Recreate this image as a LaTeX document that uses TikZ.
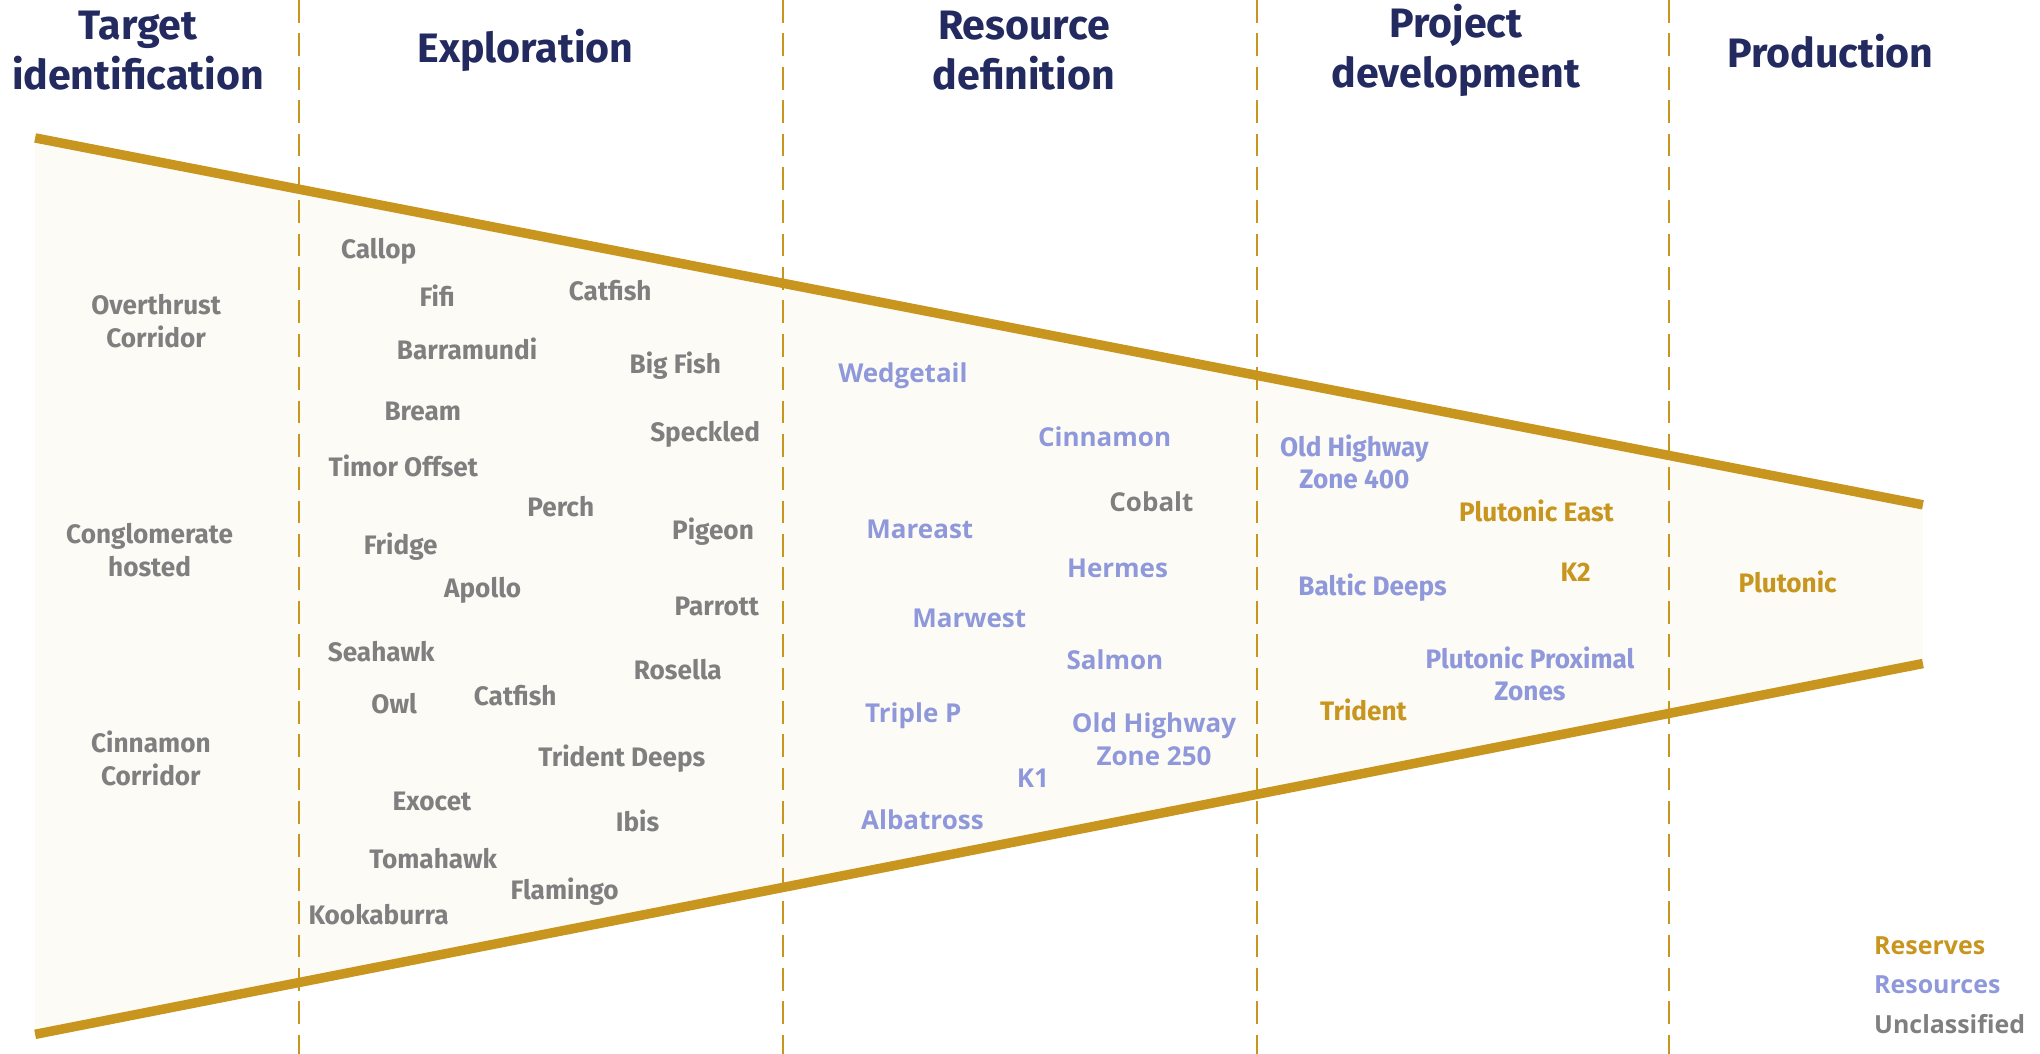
\documentclass[tikz,border=0pt]{standalone}
\usepackage{fontspec}
\setmainfont{Fira Sans}
\newfontfamily\narrowfont[FakeStretch=0.98]{Fira Sans}
\newfontfamily\widefont{Open Sans}
\usetikzlibrary{positioning}
\definecolor{gold}{RGB}{200,149,30}
\definecolor{navy}{RGB}{34,42,96}
\definecolor{resblue}{RGB}{142,152,218}
\definecolor{ungrey}{RGB}{127,127,127}
\definecolor{cream}{RGB}{252,251,245}

\begin{document}
\begin{tikzpicture}[x=0.01301cm, y=-0.01301cm,
  stage/.style={font=\bfseries\fontsize{11.7}{14.2}\selectfont, text=navy, align=center, inner sep=0pt},
  unclassified/.style={font=\narrowfont\bfseries\fontsize{7.6}{9.3}\selectfont, text=ungrey, align=center, inner sep=0pt},
  resource/.style={unclassified, text=resblue},
  reserve/.style={unclassified, text=gold},
  wide/.style={font=\widefont\bfseries\fontsize{7.4}{9.3}\selectfont},
  legend/.style={font=\widefont\bfseries\fontsize{7.1}{9}\selectfont, anchor=west},
  boundary/.style={gold, line width=2.7pt},
  divider/.style={gold, line width=0.6pt, dash pattern=on 6.5pt off 3pt}]
\useasboundingbox (0,0) rectangle (1568,810);
\coordinate (tl) at (27,106);
\coordinate (tr) at (1478,388);
\coordinate (br) at (1478,510);
\coordinate (bl) at (27,795);
\fill[cream] (tl) -- (tr) -- (br) -- (bl) -- cycle;
\foreach \x in {230,602,966,1283}
  \draw[divider] (\x,0) -- (\x,810);
\draw[boundary] (tl) -- (tr);
\draw[boundary] (bl) -- (br);

\node (target)[stage] at (106,39) {Target\\identification};
\node (explore)[stage] at (404,39) {Exploration};
\node (resdef)[stage] at (787,39) {Resource\\definition};
\node (project)[stage] at (1119,39) {Project\\development};
\node (prod)[stage] at (1407,39) {Production};

\node (overthrust)[unclassified] at (120,247) {Overthrust\\Corridor};
\node (conglom)[unclassified] at (115,423) {Conglomerate\\hosted};
\node (cinncorr)[unclassified] at (116,583) {Cinnamon\\Corridor};

\node (callop)[unclassified] at (291,193) {Callop};
\node (fifi)[unclassified] at (336,227) {Fifi};
\node (catfish1)[unclassified] at (469,223) {Catfish};
\node (barra)[unclassified] at (359,268) {Barramundi};
\node (bigfish)[unclassified] at (519,281) {Big Fish};
\node (bream)[unclassified] at (325,316) {Bream};
\node (speckled)[unclassified] at (542,334) {Speckled};
\node (timor)[unclassified] at (310,358) {Timor Offset};
\node (perch)[unclassified] at (431,389) {Perch};
\node (pigeon)[unclassified] at (548,409) {Pigeon};
\node (fridge)[unclassified] at (308,420) {Fridge};
\node (apollo)[unclassified] at (371,454) {Apollo};
\node (parrott)[unclassified] at (551,466) {Parrott};
\node (seahawk)[unclassified] at (293,501) {Seahawk};
\node (rosella)[unclassified] at (521,515) {Rosella};
\node (owl)[unclassified] at (303,541) {Owl};
\node (catfish2)[unclassified] at (396,535) {Catfish};
\node (tdeeps)[unclassified] at (478,583) {Trident Deeps};
\node (exocet)[unclassified] at (332,616) {Exocet};
\node (ibis)[unclassified] at (490,631) {Ibis};
\node (tomahawk)[unclassified] at (333,660) {Tomahawk};
\node (flamingo)[unclassified] at (434,685) {Flamingo};
\node (kooka)[unclassified] at (291,703) {Kookaburra};

\node (wedgetail)[resource, wide] at (694,289) {Wedgetail};
\node (cinnamon)[resource, wide] at (849,336) {Cinnamon};
\node (cobalt)[unclassified, wide] at (885,386) {Cobalt};
\node (mareast)[resource, wide] at (707,407) {Mareast};
\node (hermes)[resource, wide] at (859,437) {Hermes};
\node (marwest)[resource, wide] at (745,475) {Marwest};
\node (salmon)[resource, wide] at (857,507) {Salmon};
\node (triplep)[resource, wide] at (702,550) {Triple P};
\node (oh250)[resource, wide] at (887,568) {Old Highway\\Zone 250};
\node (k1)[resource, wide] at (794,598) {K1};
\node (albatross)[resource, wide] at (709,630) {Albatross};

\node (oh400)[resource] at (1041,355) {Old Highway\\Zone 400};
\node (baltic)[resource] at (1055,452) {Baltic Deeps};
\node (proximal)[resource] at (1176,518) {Plutonic Proximal\\Zones};
\node (pluteast)[reserve] at (1181,393) {Plutonic East};
\node (k2)[reserve] at (1211,440) {K2};
\node (trident)[reserve] at (1048,546) {Trident};
\node (plutonic)[reserve] at (1374,447) {Plutonic};

\node (reserves)[reserve, legend] at (1440,727) {Reserves};
\node (resources)[resource, legend] at (1440,757) {Resources};
\node (unclass)[unclassified, legend] at (1440,787) {Unclassified};
\end{tikzpicture}
\end{document}
